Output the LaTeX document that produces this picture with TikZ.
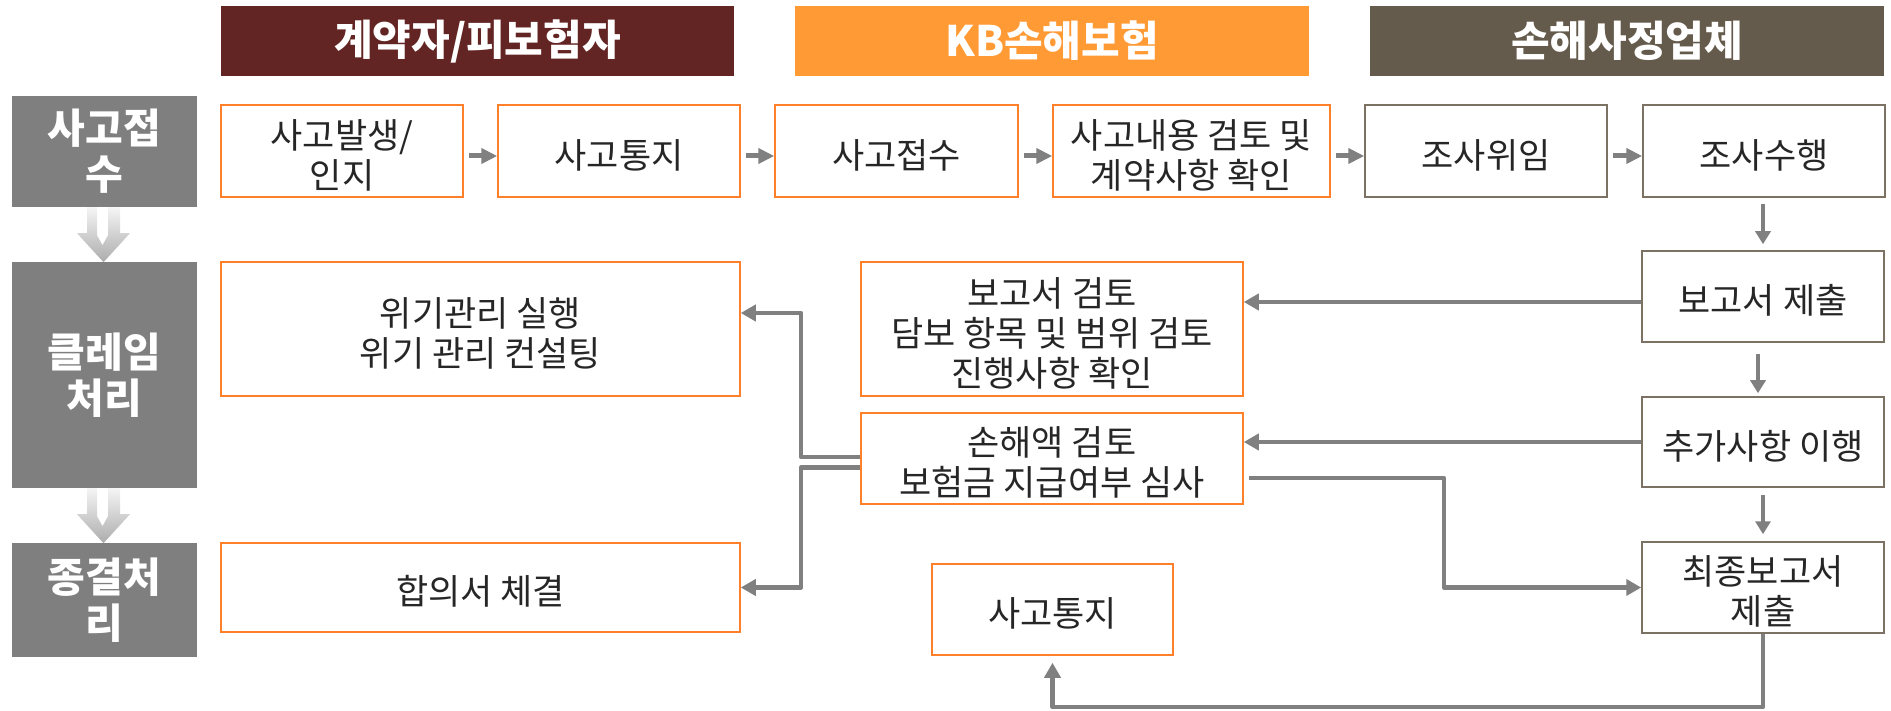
\documentclass[tikz,border=0pt]{standalone}
\usepackage{fontspec}
\setmainfont{Noto Sans CJK KR}
\usetikzlibrary{arrows.meta,calc}
\definecolor{hbrown}{HTML}{632523}
\definecolor{horange}{HTML}{FF9A35}
\definecolor{hdark}{HTML}{655B4C}
\definecolor{lgray}{HTML}{7F7F7F}
\definecolor{bor}{HTML}{FF7F2A}
\definecolor{bgr}{HTML}{7B7264}
\definecolor{cgray}{HTML}{808080}
\begin{document}
\begin{tikzpicture}[x=1pt,y=-1pt,
 header/.style={minimum height=70pt, inner sep=0pt, text=white, font=\fontsize{42}{46}\selectfont\bfseries},
 glabel/.style={fill=lgray, minimum width=185pt, inner sep=0pt, text=white, align=center, font=\fontsize{41}{46}\selectfont\bfseries},
 obox/.style={draw=bor, line width=1.5pt, fill=white, inner sep=0pt},
 gbox/.style={obox, draw=bgr},
 tlbl/.style={align=center, inner sep=0pt, yshift=-4pt, font=\fontsize{35}{40}\selectfont, text=black!85},
 txt/.style={label={[tlbl]center:{#1}}},
 topar/.style={draw=cgray, line width=5pt, -{Triangle[length=16pt,width=15pt]}},
 vert/.style={draw=cgray, line width=3.5pt, -{Triangle[length=13pt,width=15pt]}},
 conn/.style={draw=cgray, line width=4.5pt, line join=round, -{Triangle[length=15pt,width=16pt]}},
 hollow/.style={top color=gray!8, bottom color=gray!65, draw=none},
]
\useasboundingbox (0,0) rectangle (1891,711);

% headers
\node[header, fill=hbrown, minimum width=513pt] (h1) at (477.5,41) {계약자/피보험자};
\node[header, fill=horange, minimum width=514pt] (h2) at (1052,41) {KB손해보험};
\node[header, fill=hdark, minimum width=514pt] (h3) at (1627,41) {손해사정업체};

% stage labels
\node[glabel, minimum height=111pt] (g1) at (104.5,151.5) {사고접\\수};
\node[glabel, minimum height=226pt] (g2) at (104.5,375) {클레임\\처리};
\node[glabel, minimum height=114pt] (g3) at (104.5,600) {종결처\\리};

% hollow arrows between stage labels
\foreach \g in {g1,g2}{
  \begin{scope}[shift={(\g.south)}]
    \shade[hollow] (-17.5,0) -- (-17.5,26) -- (-27.5,26) -- (-1,55) -- (25.5,26) -- (15.5,26) -- (15.5,0)
      -- (3.5,0) -- (3.5,28) -- (-2,38) -- (-7.5,28) -- (-7.5,0) -- cycle;
  \end{scope}
}

% top row
\node[obox, minimum width=242pt, minimum height=92pt, txt={사고발생/\\인지}] (a1) at (342,151) {};
\node[obox, minimum width=242pt, minimum height=92pt, txt={사고통지}] (a2) at (619,151) {};
\node[obox, minimum width=243pt, minimum height=92pt, txt={사고접수}] (a3) at (896.5,151) {};
\node[obox, minimum width=277pt, minimum height=92pt, txt={사고내용 검토 및\\계약사항 확인}] (a4) at (1191.5,151) {};
\node[gbox, minimum width=242pt, minimum height=92pt, txt={조사위임}] (a5) at (1486,151) {};
\node[gbox, minimum width=242pt, minimum height=92pt, txt={조사수행}] (a6) at (1764,151) {};

% middle / lower boxes
\node[obox, minimum width=519pt, minimum height=134pt, txt={위기관리 실행\\위기 관리 컨설팅}] (crisis) at (480.5,329) {};
\node[obox, minimum width=382pt, minimum height=134pt, txt={보고서 검토\\담보 항목 및 범위 검토\\진행사항 확인}] (review) at (1052,329) {};
\node[gbox, minimum width=242pt, minimum height=91pt, txt={보고서 제출}] (report) at (1763,296.5) {};
\node[obox, minimum width=382pt, minimum height=91pt, txt={손해액 검토\\보험금 지급여부 심사}] (loss) at (1052,458.5) {};
\node[gbox, minimum width=242pt, minimum height=90pt, txt={추가사항 이행}] (add) at (1763,442) {};
\node[obox, minimum width=519pt, minimum height=89pt, txt={합의서 체결}] (agree) at (480.5,587.5) {};
\node[gbox, minimum width=242pt, minimum height=91pt, txt={최종보고서\\제출}] (final) at (1763,587.5) {};
\node[obox, minimum width=241pt, minimum height=91pt, txt={사고통지}] (notice) at (1052.5,609.5) {};

% top row arrows
\foreach \p/\q in {a1/a2,a2/a3,a3/a4,a4/a5,a5/a6}{
  \draw[topar] ([xshift=5pt,yshift=-5pt]\p.east) -- ([yshift=-5pt]\q.west);
}

% vertical arrows on the right
\draw[vert, shorten <=6pt, shorten >=6pt] (a6.south -| report.north) -- (report.north);
\draw[vert, shorten <=11pt, shorten >=3pt] ([xshift=-5pt]report.south) -- ([xshift=-5pt]add.north);
\draw[vert, shorten <=7pt, shorten >=7pt] (add.south) -- (final.north);

% horizontal feedback arrows
\draw[conn] ([yshift=-5.5pt]report.west) -- ([yshift=-5.5pt]report.west -| review.east);
\draw[conn] (add.west) -- (add.west -| loss.east);

% loss -> final report
\coordinate (j1) at (1444,587.5);
\draw[conn] ([xshift=5pt,yshift=-19.5pt]loss.east) -| (j1) -- (final.west);

% final report -> notice
\coordinate (bot) at (1763,707);
\draw[conn, shorten >=7pt] (final.south) -- (final.south |- bot) -| (notice.south);

% loss -> crisis / agreement
\coordinate (c1) at (801,313);
\coordinate (c2) at (801,587.5);
\draw[conn] ([yshift=1.5pt]loss.west) -| (c1) -- (c1 -| crisis.east);
\draw[conn] ([yshift=-9pt]loss.west) -| (c2) -- (c2 -| agree.east);
\end{tikzpicture}
\end{document}
